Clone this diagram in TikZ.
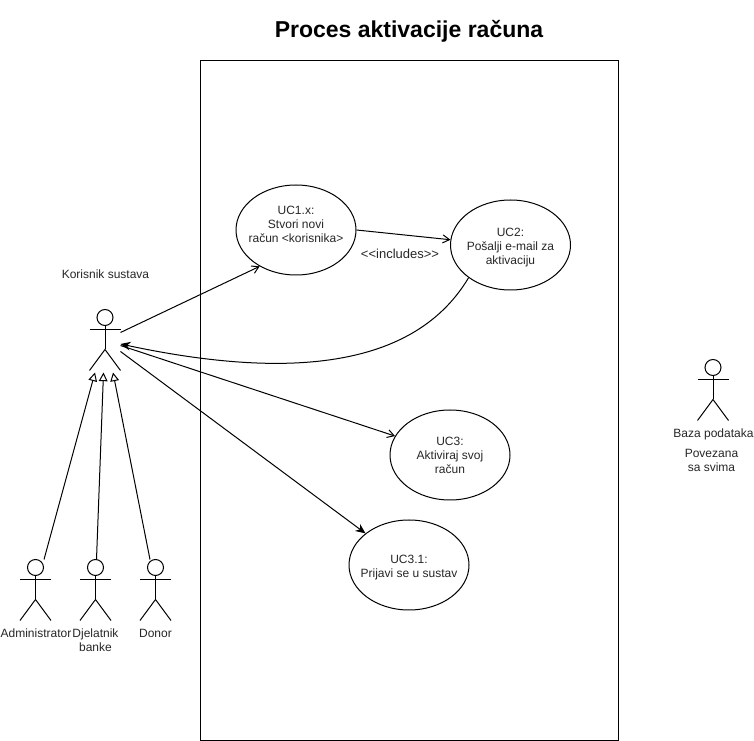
\documentclass[tikz,border=0pt]{standalone}
\usepackage{fontspec}
\setmainfont{Liberation Sans}
\usetikzlibrary{arrows.meta,calc,shapes.geometric}

\tikzset{
    usecase/.style={ellipse, draw, inner ysep=0pt, inner xsep=-20pt, minimum width=90pt, minimum height=67.5pt, align=center, text=black!85, font=\fontsize{9}{10.5}\selectfont},
    actorbox/.style={rectangle, inner sep=0pt, minimum width=22.5pt, minimum height=45pt},
    label/.style={align=center, inner sep=0pt, text=black!85, font=\fontsize{9}{10.5}\selectfont},
    assoc/.style={-{Straight Barb[length=5pt,width=6pt]}},
    assocfull/.style={-{Stealth[length=7.5pt,width=6.5pt]}},
    general/.style={-{Triangle[open,length=6.5pt,width=6.5pt]}}
}

% stick figure inside a named box
\newcommand{\stickactor}[3]{
    \node[actorbox] (#1) at (#2,#3) {};
    \draw ($(#1.north)+(0,8)$) circle (6pt);
    \draw ($(#1.north)+(0,16)$) -- ($(#1.north)+(0,40)$);
    \draw ($(#1.north west)+(0,20)$) -- ($(#1.north east)+(0,20)$);
    \draw ($(#1.south west)$) -- ($(#1.north)+(0,40)$) -- ($(#1.south east)$);
}

\begin{document}
\begin{tikzpicture}[x=0.75pt, y=-0.75pt, line width=0.75pt]
    \useasboundingbox (0,0) rectangle (754,741);

    % Title and system boundary
    \node[font=\bfseries\fontsize{17.25}{21}\selectfont, inner sep=0pt] (title) at (409,31) {Proces aktivacije računa};
    \node[rectangle, draw, minimum width=313.5pt, minimum height=510pt] (system) at (409,400.5) {};

    % Actors
    \stickactor{korisnik}{105}{340}
    \stickactor{admin}{35.5}{590}
    \stickactor{djelatnik}{95.5}{590}
    \stickactor{donor}{155.5}{590}
    \stickactor{baza}{713}{390}

    % Actor labels
    \node[label] (korisniklabel) at (105.5,274) {Korisnik sustava};
    \node[label] (adminlabel) at (36,633) {Administrator};
    \node[label] (djelatniklabel) at (95.5,640) {Djelatnik\\banke};
    \node[label] (donorlabel) at (155.5,633) {Donor};
    \node[label] (bazalabel) at (713.5,434) {Baza podataka};
    \node[label] (povezana) at (711.5,460) {Povezana\\sa svima};

    % Use cases
    \node[usecase] (uc1) at (296,230) {UC1.x:\\Stvori novi\\račun <korisnika>\rule[-8pt]{0pt}{8pt}};
    \node[usecase] (uc2) at (510.5,245) {\rule{0pt}{10pt}UC2:\\Pošalji e-mail za\\aktivaciju};
    \node[usecase] (uc3) at (450,455) {UC3:\\Aktiviraj svoj\\račun};
    \node[usecase] (uc31) at (409,565) {\rule{0pt}{10pt}UC3.1:\\Prijavi se u sustav};
    \node[label, font=\fontsize{9.75}{11}\selectfont] (includes) at (400,254) {<{}<includes>{}>};

    % Arrows
    \draw[assoc] ($(korisnik.east)+(0,-7.5)$) -- (uc1.225);
    \draw[assoc] (uc1.east) -- (uc2.175);
    \draw[assocfull] (uc2.218) .. controls (410,376) and (270,376) .. ($(korisnik.east)+(0,4)$);
    \draw[assoc] ($(korisnik.east)+(0,5.5)$) -- (uc3.161);
    \draw[assocfull] ($(korisnik.east)+(0,11.5)$) -- (uc31.144);

    % Generalisation
    \draw[general] ($(admin.north)+(8.5,0)$) -- ($(korisnik.south)+(-10,2)$);
    \draw[general] ($(djelatnik.north)+(1,0)$) -- ($(korisnik.south)+(-1.5,2)$);
    \draw[general] ($(donor.north)+(-5.5,0)$) -- ($(korisnik.south)+(8,2)$);
\end{tikzpicture}
\end{document}
